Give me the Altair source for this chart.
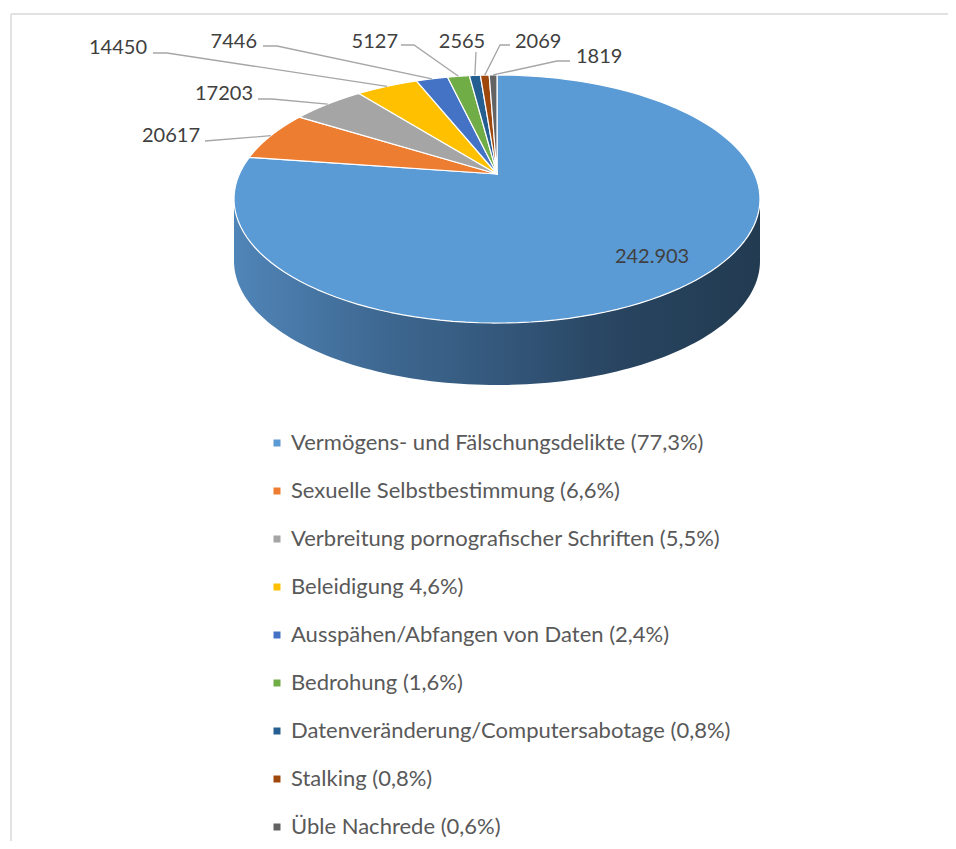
import math
import altair as alt
import pandas as pd

# ---------------- data ----------------
categories = [
    "Vermögens- und Fälschungsdelikte (77,3%)",
    "Sexuelle Selbstbestimmung (6,6%)",
    "Verbreitung pornografischer Schriften (5,5%)",
    "Beleidigung 4,6%)",
    "Ausspähen/Abfangen von Daten (2,4%)",
    "Bedrohung (1,6%)",
    "Datenveränderung/Computersabotage (0,8%)",
    "Stalking (0,8%)",
    "Üble Nachrede (0,6%)",
]
values = [242903, 20617, 17203, 14450, 7446, 5127, 2565, 2069, 1819]
value_labels = ["242.903", "20617", "17203", "14450", "7446", "5127", "2565", "2069", "1819"]
colors = ["#5B9BD5", "#ED7D31", "#A5A5A5", "#FFC000", "#4472C4",
          "#70AD47", "#255E91", "#9E480E", "#636363"]

# ---------------- label layout (page pixels) ----------------
label_side = ["inside", "right", "right", "right", "right", "right", "center", "left", "left"]
label_x = [None, 200, 253, 147, 257, 398, 462, 515, 576]
label_y = [None, 142, 100, 54, 48, 48, 48, 48, 63]
leader_end_x = [None, 205, 258, 153, 263, 401, 476, 510, 570]
leader_end_y = [None, 141, 99, 53, 46, 45, 52, 45, 61]
leader_elbow_x = [None, 205, 272, 167, 277, 414, 476, 500, 557]

df = pd.DataFrame({
    "idx": list(range(len(values))),
    "cat": categories,
    "value": values,
    "label": value_labels,
    "side": label_side,
    "tx": label_x,
    "ty": label_y,
    "lx": leader_end_x,
    "ly": leader_end_y,
    "ex": leader_elbow_x,
})

# ---------------- geometry of the 3D-looking pie ----------------
CX, CY = 497, 174      # centre of the top face (page px)
RX, RY = 257.6, 119    # radii
P = 0.2016             # perspective factor
DEPTH = 62             # wall height
TH0 = math.degrees(math.acos(-P))
TH1 = 360 - TH0

W, H = 940, 833
xs = alt.Scale(domain=[8, 8 + W], range=[0, W], nice=False, zero=False)
ys = alt.Scale(domain=[8, 8 + H], range=[0, H], nice=False, zero=False)
cscale = alt.Scale(domain=categories, range=colors)

FONT = "Lato"


def pie_geom(ch):
    return ch.transform_joinaggregate(total="sum(value)").transform_window(
        cum="sum(value)", sort=[alt.SortField("idx")], frame=[None, 0]
    ).transform_calculate(
        a0="2*PI*(datum.cum - datum.value)/datum.total",
        a1="2*PI*datum.cum/datum.total",
    ).transform_calculate(
        mid="(datum.a0 + datum.a1)/2"
    )


# wall (front side)
wall = alt.Chart(alt.sequence(0, 121, as_="i")).transform_calculate(
    th=f"PI*({TH0} + ({TH1} - {TH0})*datum.i/120)/180"
).transform_calculate(
    sc=f"1/(1 + {P}*cos(datum.th))"
).transform_calculate(
    px=f"{CX} + {RX}*sin(datum.th)*datum.sc",
    py=f"{CY} - {RY}*cos(datum.th)*datum.sc",
).transform_calculate(
    py2=f"datum.py + {DEPTH}"
).mark_area(
    fill=alt.Gradient(
        gradient="linear",
        stops=[
            alt.GradientStop(color="#5085b8", offset=0),
            alt.GradientStop(color="#3e6891", offset=0.28),
            alt.GradientStop(color="#34587c", offset=0.5),
            alt.GradientStop(color="#284460", offset=0.73),
            alt.GradientStop(color="#223b51", offset=1),
        ],
        x1=0, x2=1, y1=0, y2=0,
    )
).encode(
    x=alt.X("px:Q", scale=xs, axis=None),
    y=alt.Y("py:Q", scale=ys, axis=None),
    y2="py2:Q",
)

# top face slices
slices = pie_geom(alt.Chart(df)).transform_calculate(
    k="sequence(-1, 121)"
).transform_flatten(["k"]).transform_calculate(
    th="datum.a0 + (datum.a1 - datum.a0)*max(datum.k, 0)/120"
).transform_calculate(
    sc=f"1/(1 + {P}*cos(datum.th))"
).transform_calculate(
    px=f"datum.k < 0 ? {CX} : {CX} + {RX}*sin(datum.th)*datum.sc",
    py=f"datum.k < 0 ? {CY} : {CY} - {RY}*cos(datum.th)*datum.sc",
).mark_line(
    interpolate="linear-closed", stroke="white", strokeWidth=1.2, strokeJoin="round"
).encode(
    x=alt.X("px:Q", scale=xs, axis=None),
    y=alt.Y("py:Q", scale=ys, axis=None),
    fill=alt.Fill("cat:N", scale=cscale, legend=None),
    detail="cat:N",
    order=alt.Order("k:Q"),
)

# leader lines
leaders = pie_geom(alt.Chart(df)).transform_filter(
    "datum.side != 'inside'"
).transform_calculate(
    sc=f"1/(1 + {P}*cos(datum.mid))"
).transform_calculate(
    edx=f"{CX} + {RX}*sin(datum.mid)*datum.sc",
    edy=f"{CY} - {RY}*cos(datum.mid)*datum.sc",
    k="sequence(0, 3)",
).transform_flatten(["k"]).transform_calculate(
    px="datum.k == 0 ? datum.edx : (datum.k == 1 ? datum.ex : datum.lx)",
    py="datum.k == 0 ? datum.edy : datum.ly",
).mark_line(color="#a6a6a6", strokeWidth=1.3).encode(
    x=alt.X("px:Q", scale=xs, axis=None),
    y=alt.Y("py:Q", scale=ys, axis=None),
    detail="cat:N",
    order=alt.Order("k:Q"),
)

texts = []
for side in ["right", "center", "left"]:
    texts.append(
        alt.Chart(df).transform_filter(f"datum.side == '{side}'").mark_text(
            align=side, baseline="alphabetic", font=FONT, fontSize=20, color="#404040"
        ).encode(
            x=alt.X("tx:Q", scale=xs, axis=None),
            y=alt.Y("ty:Q", scale=ys, axis=None),
            text="label:N",
        )
    )

inside = pie_geom(alt.Chart(df)).transform_filter(
    "datum.side == 'inside'"
).transform_calculate(
    sc=f"1/(1 + {P}*cos(datum.mid))"
).transform_calculate(
    px=f"{CX} + 0.78*{RX}*sin(datum.mid)*datum.sc",
    py=f"{CY} - 0.78*{RY}*cos(datum.mid)*datum.sc",
).mark_text(
    align="center", baseline="middle", font=FONT, fontSize=20, color="#404040"
).encode(
    x=alt.X("px:Q", scale=xs, axis=None),
    y=alt.Y("py:Q", scale=ys, axis=None),
    text="label:N",
)

legend_layer = alt.Chart(df).mark_square(size=0, opacity=1).encode(
    fill=alt.Fill(
        "cat:N",
        scale=cscale,
        legend=alt.Legend(
            orient="none", legendX=258, legendY=424, direction="vertical",
            title=None, symbolType="square", symbolSize=49, symbolStrokeWidth=0,
            symbolOpacity=1,
            labelFont=FONT, labelFontSize=22, labelColor="#595959",
            rowPadding=26, labelOffset=3, padding=0, labelLimit=0,
        ),
    )
)

one = pd.DataFrame({"a": [0]})
frame_top = alt.Chart(one).mark_rule(color="#d9d9d9", strokeWidth=1.5).encode(
    x=alt.value(3), x2=alt.value(W), y=alt.value(6)
)
frame_left = alt.Chart(one).mark_rule(color="#d9d9d9", strokeWidth=1.5).encode(
    x=alt.value(3), y=alt.value(6), y2=alt.value(H)
)

chart = alt.layer(
    frame_top, frame_left, wall, slices, leaders, *texts, inside, legend_layer
).resolve_legend(fill="independent").properties(
    width=W, height=H, autosize=alt.AutoSizeParams(type="none"), padding=0
).configure_view(stroke=None)

chart.save("out.html", embed_options={"renderer": "svg", "actions": False})
